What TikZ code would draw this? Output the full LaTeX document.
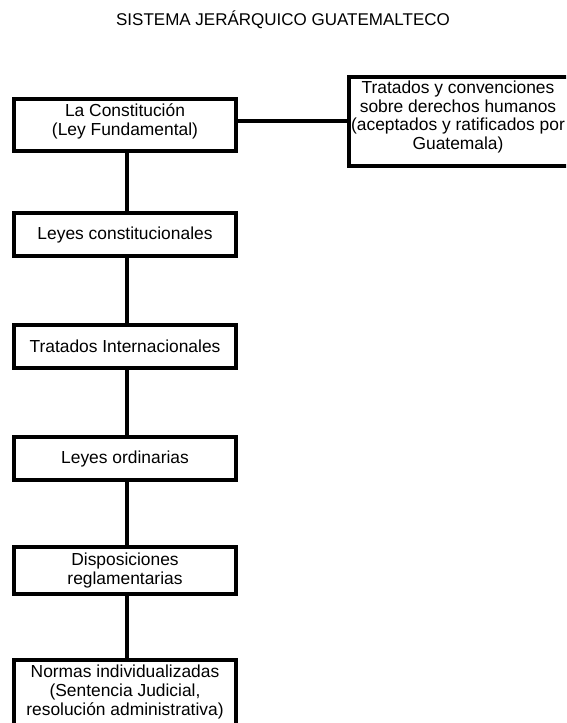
\documentclass[tikz,border=0pt]{standalone}
\usepackage{fontspec}
\setmainfont{Liberation Sans}
\begin{document}
\begin{tikzpicture}[x=1pt,y=-1pt,
  every node/.style={font=\fontsize{17.4}{18.9}\selectfont, inner sep=0pt, align=center},
  box/.style={draw=black, line width=4.3pt, fill=white, rectangle, minimum width=221.7pt},
  conn/.style={draw=black, line width=4.3pt}]
\useasboundingbox (0,0) rectangle (566,723);
\clip (0,0) rectangle (566,723);
\fill[white] (0,0) rectangle (566,723);

\node[font=\fontsize{17}{19}\selectfont] (title) at (283,20) {SISTEMA JERÁRQUICO GUATEMALTECO};

\node[box, minimum height=51.7pt] (b1) at (125,125) {};
\node (t1) at (125,121) {La Constitución\\(Ley Fundamental)};

\node[box, minimum width=220.7pt, minimum height=88.7pt] (rb) at (459,121.5) {};
\node (rt) at (458,117) {Tratados y convenciones\\sobre derechos humanos\\(aceptados y ratificados por\\Guatemala)};

\node[box, minimum height=42.7pt] (b2) at (125,234.5) {Leyes constitucionales};
\node[box, minimum height=42.7pt] (b3) at (125,346.5) {Tratados Internacionales};
\node[box, minimum height=42.7pt] (b4) at (125,458.5) {Leyes ordinarias};
\node[box, minimum height=46.7pt] (b5) at (125,570.5) {Disposiciones\\reglamentarias};
\node[box, minimum height=70pt] (b6) at (125,695) {};
\node (t6) at (125,692) {Normas individualizadas\\(Sentencia Judicial,\\resolución administrativa)};

\draw[conn] (b1.east |- 0,121) -- (rb.west |- 0,121);
\draw[conn] (127,0 |- b1.south) -- (127,0 |- b2.north);
\draw[conn] (127,0 |- b2.south) -- (127,0 |- b3.north);
\draw[conn] (127,0 |- b3.south) -- (127,0 |- b4.north);
\draw[conn] (127,0 |- b4.south) -- (127,0 |- b5.north);
\draw[conn] (127,0 |- b5.south) -- (127,0 |- b6.north);
\end{tikzpicture}
\end{document}
